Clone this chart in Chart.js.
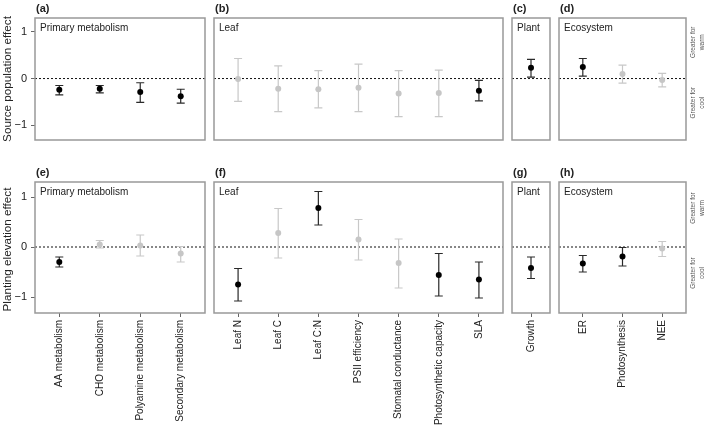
<!DOCTYPE html>
<html>
<head>
<meta charset="utf-8">
<script src="https://cdn.jsdelivr.net/npm/chart.js@4.4.0/dist/chart.umd.min.js"></script>
<style>
html, body { margin: 0; padding: 0; background: #fff; }
#fig { position: relative; width: 709px; height: 425px; overflow: hidden; }
#fig canvas { position: absolute; }
</style>
</head>
<body>
<div id="fig"></div>
<script>
// --- CATEGORIES ---
const primaryCats = ['AA metabolism', 'CHO metabolism', 'Polyamine metabolism', 'Secondary metabolism'];
const leafCats = ['Leaf N', 'Leaf C', 'Leaf C:N', 'PSII efficiency', 'Stomatal conductance', 'Photosynthetic capacity', 'SLA'];
const plantCats = ['Growth'];
const ecoCats = ['ER', 'Photosynthesis', 'NEE'];
const yTicks = [-1, 0, 1];

// --- SOURCE POPULATION EFFECT (top row) ---
const srcPrimaryMean = [-0.24, -0.22, -0.29, -0.38];
const srcPrimaryLo   = [-0.35, -0.31, -0.51, -0.53];
const srcPrimaryHi   = [-0.15, -0.15, -0.09, -0.23];
const srcPrimarySig  = [1, 1, 1, 1];

const srcLeafMean = [-0.01, -0.22, -0.23, -0.20, -0.32, -0.31, -0.26];
const srcLeafLo   = [-0.49, -0.71, -0.63, -0.71, -0.82, -0.82, -0.48];
const srcLeafHi   = [0.43, 0.27, 0.17, 0.31, 0.17, 0.18, -0.04];
const srcLeafSig  = [0, 0, 0, 0, 0, 0, 1];

const srcPlantMean = [0.23];
const srcPlantLo   = [0.03];
const srcPlantHi   = [0.41];
const srcPlantSig  = [1];

const srcEcoMean = [0.25, 0.10, -0.03];
const srcEcoLo   = [0.05, -0.10, -0.18];
const srcEcoHi   = [0.43, 0.29, 0.11];
const srcEcoSig  = [1, 0, 0];

// --- PLANTING ELEVATION EFFECT (bottom row) ---
const elevPrimaryMean = [-0.30, 0.05, 0.03, -0.13];
const elevPrimaryLo   = [-0.40, -0.02, -0.18, -0.30];
const elevPrimaryHi   = [-0.20, 0.13, 0.24, 0.01];
const elevPrimarySig  = [1, 0, 0, 0];

const elevLeafMean = [-0.75, 0.28, 0.78, 0.15, -0.32, -0.56, -0.65];
const elevLeafLo   = [-1.08, -0.22, 0.44, -0.26, -0.82, -0.98, -1.02];
const elevLeafHi   = [-0.43, 0.77, 1.11, 0.55, 0.16, -0.13, -0.30];
const elevLeafSig  = [1, 0, 1, 0, 0, 1, 1];

const elevPlantMean = [-0.42];
const elevPlantLo   = [-0.63];
const elevPlantHi   = [-0.20];
const elevPlantSig  = [1];

const elevEcoMean = [-0.33, -0.19, -0.03];
const elevEcoLo   = [-0.50, -0.38, -0.19];
const elevEcoHi   = [-0.17, -0.01, 0.11];
const elevEcoSig  = [1, 1, 0];

// --- STYLE ---
const FONT = "Arial, 'Liberation Sans', Helvetica, sans-serif";
const DARK = '#000000';
const LIGHT = '#c6c6c6';
const BAR_DARK = '#2a2a2a';
const BAR_LIGHT = '#c8c8c8';
const FRAME = '#999999';
const TEXT = '#222222';

Chart.defaults.font.family = FONT;
Chart.defaults.color = TEXT;

// --- PANEL DECORATION PLUGIN (zero line, error bars, frame, labels) ---
const panelDeco = {
    id: 'panelDeco',
    beforeDatasetsDraw(chart, args, o) {
        const { ctx, chartArea: a, scales: { x, y } } = chart;
        ctx.save();
        // dotted zero line
        const y0 = y.getPixelForValue(0);
        ctx.strokeStyle = '#111';
        ctx.lineWidth = 1;
        ctx.setLineDash([2, 2]);
        ctx.beginPath();
        ctx.moveTo(a.left, y0);
        ctx.lineTo(a.right, y0);
        ctx.stroke();
        ctx.setLineDash([]);
        // error bars
        const ds = chart.data.datasets[0];
        ds.data.forEach((p, i) => {
            const px = x.getPixelForValue(p.x);
            const pLo = y.getPixelForValue(ds.lo[i]);
            const pHi = y.getPixelForValue(ds.hi[i]);
            ctx.strokeStyle = ds.sig[i] ? BAR_DARK : BAR_LIGHT;
            ctx.lineWidth = 1.2;
            ctx.beginPath();
            ctx.moveTo(px, pLo); ctx.lineTo(px, pHi);
            ctx.moveTo(px - 4, pLo); ctx.lineTo(px + 4, pLo);
            ctx.moveTo(px - 4, pHi); ctx.lineTo(px + 4, pHi);
            ctx.stroke();
        });
        ctx.restore();
    },
    afterDraw(chart, args, o) {
        const { ctx, chartArea: a, scales: { y } } = chart;
        ctx.save();
        // frame
        ctx.strokeStyle = FRAME;
        ctx.lineWidth = 1.5;
        ctx.strokeRect(a.left, a.top, a.right - a.left, a.bottom - a.top);
        // panel letter
        ctx.fillStyle = TEXT;
        ctx.font = 'bold 11px ' + FONT;
        ctx.textAlign = 'left';
        ctx.textBaseline = 'alphabetic';
        ctx.fillText(o.letter, a.left + 1, a.top - 6);
        // panel title
        ctx.font = '10px ' + FONT;
        ctx.textBaseline = 'top';
        ctx.fillText(o.title, a.left + 5, a.top + 5);
        // y axis title
        if (o.yTitle) {
            ctx.save();
            ctx.translate(8, (a.top + a.bottom) / 2 + (o.yShift || 0));
            ctx.rotate(-Math.PI / 2);
            ctx.font = '11.7px ' + FONT;
            ctx.textAlign = 'center';
            ctx.textBaseline = 'middle';
            ctx.fillText(o.yTitle, 0, 0);
            ctx.restore();
        }
        // side notes
        if (o.sideNotes) {
            ctx.fillStyle = '#555';
            ctx.font = '6.5px ' + FONT;
            ctx.textAlign = 'center';
            ctx.textBaseline = 'middle';
            [['Greater for', 'warm', 0.78], ['Greater for', 'cool', -0.52]].forEach(([l1, l2, v]) => {
                ctx.save();
                ctx.translate(a.right + 11.5, y.getPixelForValue(v));
                ctx.rotate(-Math.PI / 2);
                ctx.fillText(l1, 0, -4.5);
                ctx.fillText(l2, 0, 4.5);
                ctx.restore();
            });
        }
        ctx.restore();
    }
};

// --- PANEL FACTORY ---
const fig = document.getElementById('fig');

function makePanel(cfg) {
    const cv = document.createElement('canvas');
    cv.width = cfg.width;
    cv.height = cfg.height;
    cv.style.left = cfg.left + 'px';
    cv.style.top = cfg.top + 'px';
    cv.style.width = cfg.width + 'px';
    cv.style.height = cfg.height + 'px';
    fig.appendChild(cv);

    const n = cfg.cats.length;
    const xPad = cfg.xPad !== undefined ? cfg.xPad : 0.6;

    new Chart(cv.getContext('2d'), {
        type: 'scatter',
        data: {
            datasets: [{
                data: cfg.mean.map((m, i) => ({ x: i, y: m })),
                lo: cfg.lo,
                hi: cfg.hi,
                sig: cfg.sig,
                pointRadius: 3,
                pointHoverRadius: 3,
                pointBorderWidth: 0,
                pointBackgroundColor: cfg.sig.map(s => s ? DARK : LIGHT)
            }]
        },
        options: {
            responsive: false,
            animation: false,
            events: [],
            layout: {
                padding: {
                    left: cfg.showY ? 0 : cfg.padL,
                    right: cfg.padR,
                    top: cfg.padT,
                    bottom: cfg.showX ? 0 : cfg.padB
                }
            },
            plugins: {
                legend: { display: false },
                tooltip: { enabled: false },
                panelDeco: {
                    letter: cfg.letter,
                    title: cfg.title,
                    yTitle: cfg.yTitle,
                    yShift: cfg.yShift,
                    sideNotes: cfg.sideNotes
                }
            },
            scales: {
                x: {
                    type: 'linear',
                    display: cfg.showX,
                    min: -xPad,
                    max: n - 1 + xPad,
                    afterBuildTicks: s => { s.ticks = cfg.cats.map((c, i) => ({ value: i })); },
                    afterFit: s => { s.height = cfg.padB; },
                    grid: { drawOnChartArea: false, drawTicks: true, tickLength: 4, color: '#666' },
                    border: { display: false },
                    ticks: {
                        autoSkip: false,
                        minRotation: 90,
                        maxRotation: 90,
                        padding: 3,
                        color: TEXT,
                        font: { size: 10 },
                        callback: (v, i) => cfg.cats[i]
                    }
                },
                y: {
                    display: cfg.showY,
                    min: -1.32,
                    max: 1.3,
                    afterBuildTicks: s => { s.ticks = yTicks.map(v => ({ value: v })); },
                    afterFit: s => { s.width = cfg.padL; },
                    grid: { drawOnChartArea: false, drawTicks: true, tickLength: 4, color: '#666' },
                    border: { display: false },
                    ticks: {
                        padding: 4,
                        color: TEXT,
                        font: { size: 11 },
                        callback: v => v < 0 ? '\u2212' + Math.abs(v) : String(v)
                    }
                }
            }
        },
        plugins: [panelDeco]
    });
}

// --- TOP ROW: SOURCE POPULATION ---
makePanel({ left: 0, top: 0, width: 208, height: 160, padL: 35, padR: 3, padT: 18, padB: 10,
    showY: true, showX: false, cats: primaryCats, mean: srcPrimaryMean, lo: srcPrimaryLo, hi: srcPrimaryHi, sig: srcPrimarySig,
    letter: '(a)', title: 'Primary metabolism', yTitle: 'Source population effect' });
makePanel({ left: 208, top: 0, width: 298, height: 160, padL: 3, padR: 3, padT: 18, padB: 10,
    showY: false, showX: false, cats: leafCats, mean: srcLeafMean, lo: srcLeafLo, hi: srcLeafHi, sig: srcLeafSig,
    letter: '(b)', title: 'Leaf' });
makePanel({ left: 506, top: 0, width: 47, height: 160, padL: 3, padR: 2, padT: 18, padB: 10, xPad: 0.52,
    showY: false, showX: false, cats: plantCats, mean: srcPlantMean, lo: srcPlantLo, hi: srcPlantHi, sig: srcPlantSig,
    letter: '(c)', title: 'Plant' });
makePanel({ left: 553, top: 0, width: 156, height: 160, padL: 3, padR: 23, padT: 18, padB: 10,
    showY: false, showX: false, cats: ecoCats, mean: srcEcoMean, lo: srcEcoLo, hi: srcEcoHi, sig: srcEcoSig,
    letter: '(d)', title: 'Ecosystem', sideNotes: true });

// --- BOTTOM ROW: PLANTING ELEVATION ---
makePanel({ left: 0, top: 160, width: 208, height: 265, padL: 35, padR: 3, padT: 22, padB: 112,
    showY: true, showX: true, cats: primaryCats, mean: elevPrimaryMean, lo: elevPrimaryLo, hi: elevPrimaryHi, sig: elevPrimarySig,
    letter: '(e)', title: 'Primary metabolism', yTitle: 'Planting elevation effect', yShift: 2 });
makePanel({ left: 208, top: 160, width: 298, height: 265, padL: 3, padR: 3, padT: 22, padB: 112,
    showY: false, showX: true, cats: leafCats, mean: elevLeafMean, lo: elevLeafLo, hi: elevLeafHi, sig: elevLeafSig,
    letter: '(f)', title: 'Leaf' });
makePanel({ left: 506, top: 160, width: 47, height: 265, padL: 3, padR: 2, padT: 22, padB: 112, xPad: 0.52,
    showY: false, showX: true, cats: plantCats, mean: elevPlantMean, lo: elevPlantLo, hi: elevPlantHi, sig: elevPlantSig,
    letter: '(g)', title: 'Plant' });
makePanel({ left: 553, top: 160, width: 156, height: 265, padL: 3, padR: 23, padT: 22, padB: 112,
    showY: false, showX: true, cats: ecoCats, mean: elevEcoMean, lo: elevEcoLo, hi: elevEcoHi, sig: elevEcoSig,
    letter: '(h)', title: 'Ecosystem', sideNotes: true });
</script>
</body>
</html>
